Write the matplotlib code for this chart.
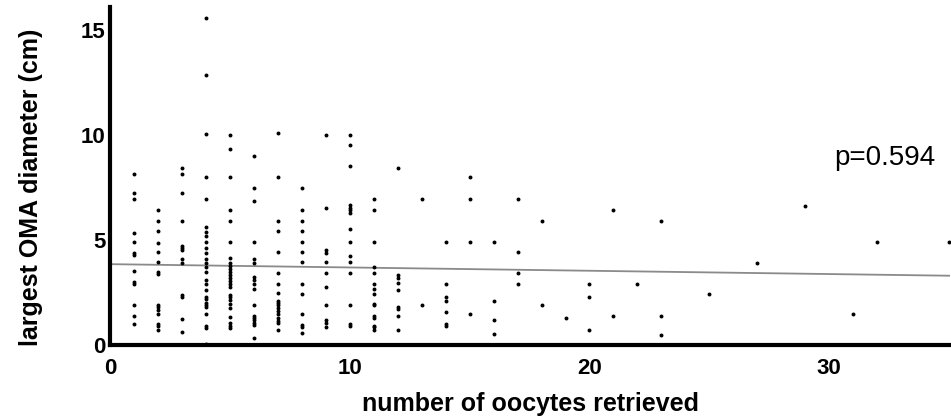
import numpy as np
import matplotlib.pyplot as plt

plt.rcParams['font.family'] = ['Liberation Sans', 'DejaVu Sans']

# oocytes retrieved -> largest OMA diameters (cm), read column by column
cols = {
    1: [8.13, 7.25, 6.94, 5.32, 4.92, 4.4, 4.3, 3.54, 3.0, 2.9, 1.9, 1.4, 1.0],
    2: [6.43, 5.92, 5.43, 4.84, 4.44, 3.93, 3.5, 3.4, 1.9, 1.8, 1.65, 1.48, 1.0, 0.9, 0.7],
    3: [8.44, 8.13, 7.22, 5.92, 4.7, 4.6, 4.5, 4.1, 3.9, 2.4, 2.3, 1.22, 0.62],
    4: [15.57, 12.84, 10.03, 8.02, 6.94, 5.6, 5.4, 5.2, 4.9, 4.6, 4.4, 4.1, 3.9, 3.7, 3.5,
        3.1, 2.9, 2.6, 2.3, 2.2, 2.0, 1.9, 1.8, 1.5, 0.9, 0.8, 0.05],
    5: [10.0, 9.33, 8.02, 6.43, 5.92, 4.92, 4.13, 3.9, 3.75, 3.6, 3.5, 3.35, 3.2, 3.05, 2.9,
        2.75, 2.4, 2.3, 2.15, 1.95, 1.75, 1.35, 1.05, 0.9, 0.8],
    6: [9.0, 7.49, 6.85, 4.92, 4.1, 3.9, 3.25, 3.1, 2.9, 2.65, 1.9, 1.4, 1.3, 1.2, 1.05, 0.95, 0.32],
    7: [10.1, 8.02, 5.92, 5.43, 4.44, 3.41, 2.9, 2.46, 2.1, 2.0, 1.9, 1.75, 1.6, 1.48, 1.3,
        1.15, 1.05, 0.7],
    8: [7.49, 6.43, 5.92, 5.43, 4.92, 4.44, 3.93, 2.9, 2.43, 1.48, 0.95, 0.85, 0.59],
    9: [10.0, 6.5, 4.5, 4.4, 3.93, 3.41, 2.78, 1.9, 1.2, 1.05, 0.85],
    10: [10.0, 9.52, 8.52, 6.67, 6.54, 6.43, 6.27, 5.52, 4.92, 4.24, 3.93, 3.41, 1.9, 1.0, 0.9],
    11: [6.94, 6.43, 4.92, 3.7, 3.41, 2.9, 2.65, 2.43, 1.95, 1.9, 1.38, 1.3, 0.9, 0.85, 0.7],
    12: [8.43, 3.35, 3.2, 2.94, 2.62, 1.8, 1.7, 1.4, 0.7],
    13: [6.94, 1.9],
    14: [4.92, 2.9, 2.3, 2.1, 1.59, 1.0, 0.9],
    15: [8.02, 6.94, 4.92, 1.48],
    16: [4.92, 2.11, 1.19, 0.51],
    17: [6.94, 4.41, 3.41, 2.9],
    18: [5.92, 1.9],
    19: [1.3],
    20: [2.9, 2.3, 0.7],
    21: [6.43, 1.4],
    22: [2.9],
    23: [5.92, 1.4, 0.5],
    25: [2.41],
    27: [3.92],
    29: [6.62],
    31: [1.48],
    32: [4.92],
    35: [4.92],
}
oocytes = [k for k, v in cols.items() for _ in v]
diameter = [d for v in cols.values() for d in v]

# fitted line end points
fit_x = [0, 35]
fit_y = [3.85, 3.3]

fig = plt.figure(figsize=(9.51, 4.18), dpi=100)
ax = fig.add_axes([0.1157, 0.1746, 0.8833, 0.809])

ax.plot(fit_x, fit_y, color='#8a8a8a', lw=1.3, zorder=1)
ax.scatter(oocytes, diameter, s=8, color='black', linewidths=0, zorder=2)

ax.set_xlim(0, 35.04)
ax.set_ylim(0, 16.1)
ax.set_xticks([0, 10, 20, 30])
ax.set_yticks([0, 5, 10, 15])
ax.tick_params(length=0, labelsize=16)
ax.tick_params(axis='y', pad=3)
ax.tick_params(axis='x', pad=9)
for t in ax.get_xticklabels() + ax.get_yticklabels():
    t.set_fontweight('bold')

ax.spines['top'].set_visible(False)
ax.spines['right'].set_visible(False)
ax.spines['left'].set_linewidth(3)
ax.spines['bottom'].set_linewidth(3)

ax.set_xlabel('number of oocytes retrieved', fontsize=18, fontweight='bold')
ax.set_ylabel('largest OMA diameter (cm)', fontsize=18, fontweight='bold')
ax.xaxis.set_label_coords(0.5, -0.14)
ax.yaxis.set_label_coords(-0.08, 0.467)

ax.text(30.2, 8.9, 'p=0.594', fontsize=20, va='center', ha='left')

fig.savefig('out.png', dpi=100)
